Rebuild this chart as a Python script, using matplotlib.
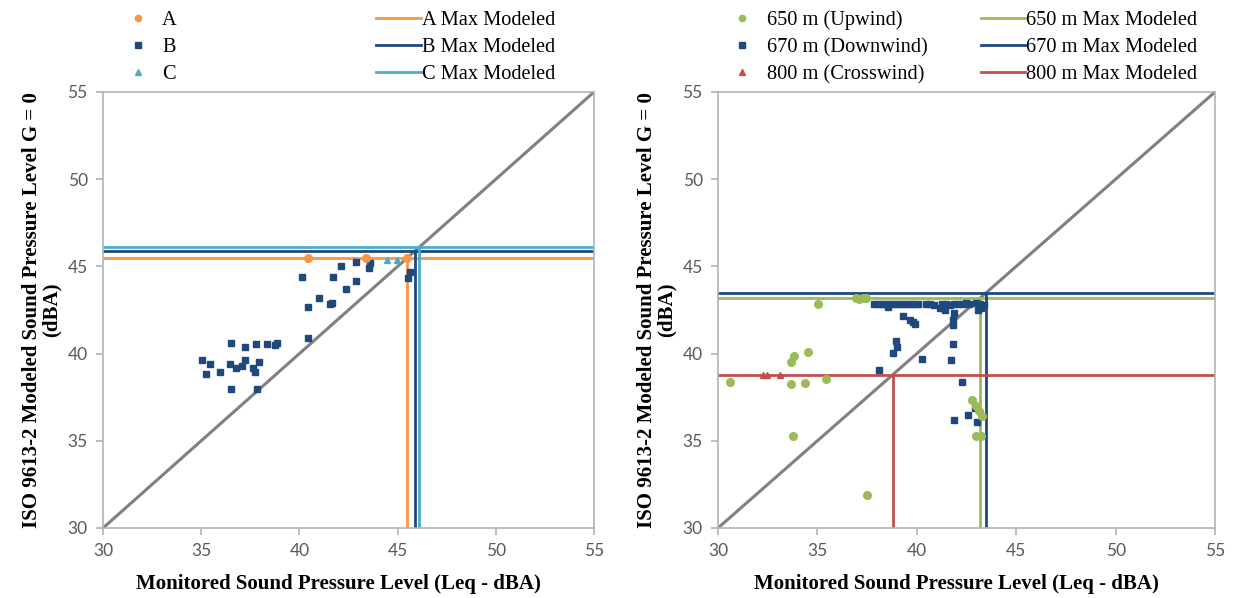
import matplotlib
matplotlib.use('Agg')
import matplotlib.pyplot as plt
from matplotlib.lines import Line2D

# ## data ## #

# left panel: receptors A, B, C
a_x = [40.45, 43.4, 45.5]
a_y = [45.5, 45.5, 45.5]
b_x = [42.14, 42.9, 43.62, 43.53, 40.15, 41.71, 42.9, 42.39, 41.0, 40.46,
       41.54, 41.68, 40.46, 45.62, 45.55, 36.54, 37.21, 37.81, 38.35, 38.88,
       38.78, 35.04, 35.43, 35.26, 35.94, 36.45, 36.76, 37.1, 37.21, 37.64,
       37.74, 37.94, 36.54, 37.84]
b_y = [45.04, 45.23, 45.17, 44.93, 44.37, 44.37, 44.18, 43.72, 43.17, 42.69,
       42.84, 42.88, 40.91, 44.7, 44.35, 40.62, 40.39, 40.57, 40.57, 40.62,
       40.49, 39.63, 39.42, 38.81, 38.96, 39.42, 39.15, 39.27, 39.63, 39.15,
       38.92, 39.53, 37.95, 37.95]
c_x = [44.45, 44.95]
c_y = [45.35, 45.35]
max_left = [45.5, 45.9, 46.1]  # A, B, C max modeled

# right panel: distances
up_x = [35.05, 36.93, 37.1, 37.3, 37.43, 33.8, 33.67, 34.52, 30.58, 33.67,
        34.38, 35.42, 33.78, 37.5, 42.8, 42.97, 43.13, 43.3, 43.0, 43.22]
up_y = [42.86, 43.2, 43.15, 43.2, 43.2, 39.86, 39.52, 40.08, 38.4, 38.27,
        38.33, 38.56, 35.3, 31.92, 37.35, 37.0, 36.7, 36.45, 35.3, 35.3]
dn_x = [37.85, 38.05, 38.25, 38.45, 38.65, 38.85, 39.05, 39.25, 39.45, 39.65,
        39.85, 40.05, 40.45, 40.65, 40.85, 41.25, 41.45, 41.65, 41.85, 42.05,
        42.25, 42.45, 42.65, 43.0, 43.2, 43.4,
        38.55, 39.3, 39.65, 39.8, 39.9, 41.15, 41.4, 41.85, 41.82, 41.8,
        38.95, 39.0, 38.8, 38.1, 40.24, 41.7, 41.8, 42.25, 42.95, 42.6,
        41.85, 43.05, 43.25, 43.1]
dn_y = [42.85, 42.85, 42.85, 42.85, 42.85, 42.85, 42.85, 42.85, 42.85, 42.85,
        42.85, 42.85, 42.85, 42.85, 42.8, 42.85, 42.85, 42.8, 42.85, 42.85,
        42.85, 42.9, 42.85, 42.9, 42.85, 42.8,
        42.65, 42.15, 41.95, 41.8, 41.7, 42.6, 42.5, 42.3, 41.95, 41.65,
        40.75, 40.35, 40.05, 39.05, 39.7, 39.65, 40.55, 38.4, 36.9, 36.5,
        36.2, 36.1, 42.6, 42.5]
cr_x = [32.25, 32.45, 33.1]
cr_y = [38.75, 38.75, 38.75]
max_right = [43.2, 43.5, 38.8]  # 650 m, 670 m, 800 m max modeled

ticks = [30, 35, 40, 45, 50, 55]

orange = '#F79646'
navy = '#1F497D'
sky = '#4BACC6'
green = '#9BBB59'
red = '#C0504D'
grey = '#808080'
axgrey = '#B3B3B3'

serif = 'Liberation Serif'
tickfont = 'Lato'
legsize = 14.7
xlabel = 'Monitored Sound Pressure Level (Leq - dBA)'
ylabel = 'ISO 9613-2 Modeled Sound Pressure Level G = 0\n(dBA)'


def style_axes(ax):
    ax.set_xlim(30, 55)
    ax.set_ylim(30, 55)
    ax.set_xticks(ticks)
    ax.set_yticks(ticks)
    for s in ax.spines.values():
        s.set_color(axgrey)
        s.set_linewidth(1.2)
    ax.tick_params(direction='out', length=5, width=1.2, color=axgrey,
                   labelcolor='#595959', labelsize=12.5, pad=6)
    for lab in ax.get_xticklabels() + ax.get_yticklabels():
        lab.set_family(tickfont)
    ax.set_xlabel(xlabel, family=serif, fontweight='bold', fontsize=15)
    ax.xaxis.set_label_coords(0.48, -0.105)
    ax.set_ylabel(ylabel, family=serif, fontweight='bold', fontsize=15,
                  labelpad=4, linespacing=1.0)
    ax.plot([30, 55], [30, 55], color=grey, lw=2.2, zorder=1)


def max_lines(ax, vals, cols):
    for v, c in zip(vals, cols):
        ax.plot([30, 55], [v, v], color=c, lw=2.0, zorder=2)
        ax.plot([v, v], [30, v], color=c, lw=2.0, zorder=2)


def add_legends(fig, pts, lines, x1, x2, pad1, hl2):
    fig.legend(pts[0], pts[1], loc='upper left', bbox_to_anchor=(x1, 0.982),
               frameon=False, borderpad=0, borderaxespad=0, numpoints=1,
               handlelength=1.0, handletextpad=pad1, labelspacing=0.37,
               prop={'family': serif, 'size': legsize})
    fig.legend(lines[0], lines[1], loc='upper left',
               bbox_to_anchor=(x2, 0.982), frameon=False, borderpad=0,
               borderaxespad=0, handlelength=hl2, handletextpad=0.05,
               labelspacing=0.37, prop={'family': serif, 'size': legsize})


fig = plt.figure(figsize=(12.33, 5.98), dpi=100)
ax1 = fig.add_axes([103 / 1233, 1 - 528 / 598, 491 / 1233, 436 / 598])
ax2 = fig.add_axes([718 / 1233, 1 - 528 / 598, 497 / 1233, 436 / 598])

# left panel
style_axes(ax1)
max_lines(ax1, max_left, [orange, navy, sky])
ax1.plot(b_x, b_y, 's', color=navy, ms=4.3, ls='none', zorder=3)
ax1.plot(a_x, a_y, 'o', color=orange, ms=5.5, ls='none', zorder=3)
ax1.plot(c_x, c_y, '^', color=sky, ms=5, ls='none', zorder=3)

pts1 = ([Line2D([], [], marker='o', color=orange, ls='none', ms=4.5),
         Line2D([], [], marker='s', color=navy, ls='none', ms=3.8),
         Line2D([], [], marker='^', color=sky, ls='none', ms=4.5)],
        ['A', 'B', 'C'])
lines1 = ([Line2D([], [], color=c, lw=2) for c in [orange, navy, sky]],
          ['A Max Modeled', 'B Max Modeled', 'C Max Modeled'])
add_legends(fig, pts1, lines1, 128 / 1233, 376 / 1233, 0.67, 2.2)

# right panel
style_axes(ax2)
max_lines(ax2, max_right, [green, navy, red])
ax2.plot(dn_x, dn_y, 's', color=navy, ms=4.3, ls='none', zorder=3)
ax2.plot(up_x, up_y, 'o', color=green, ms=5.5, ls='none', zorder=3)
ax2.plot(cr_x, cr_y, '^', color=red, ms=5, ls='none', zorder=3)

pts2 = ([Line2D([], [], marker='o', color=green, ls='none', ms=4.5),
         Line2D([], [], marker='s', color=navy, ls='none', ms=3.8),
         Line2D([], [], marker='^', color=red, ls='none', ms=4.5)],
        ['650 m (Upwind)', '670 m (Downwind)', '800 m (Crosswind)'])
lines2 = ([Line2D([], [], color=c, lw=2) for c in [green, navy, red]],
          ['650 m Max Modeled', '670 m Max Modeled', '800 m Max Modeled'])
add_legends(fig, pts2, lines2, 732 / 1233, 981 / 1233, 0.72, 2.15)

plt.savefig('out.png', dpi=100, facecolor='w')
